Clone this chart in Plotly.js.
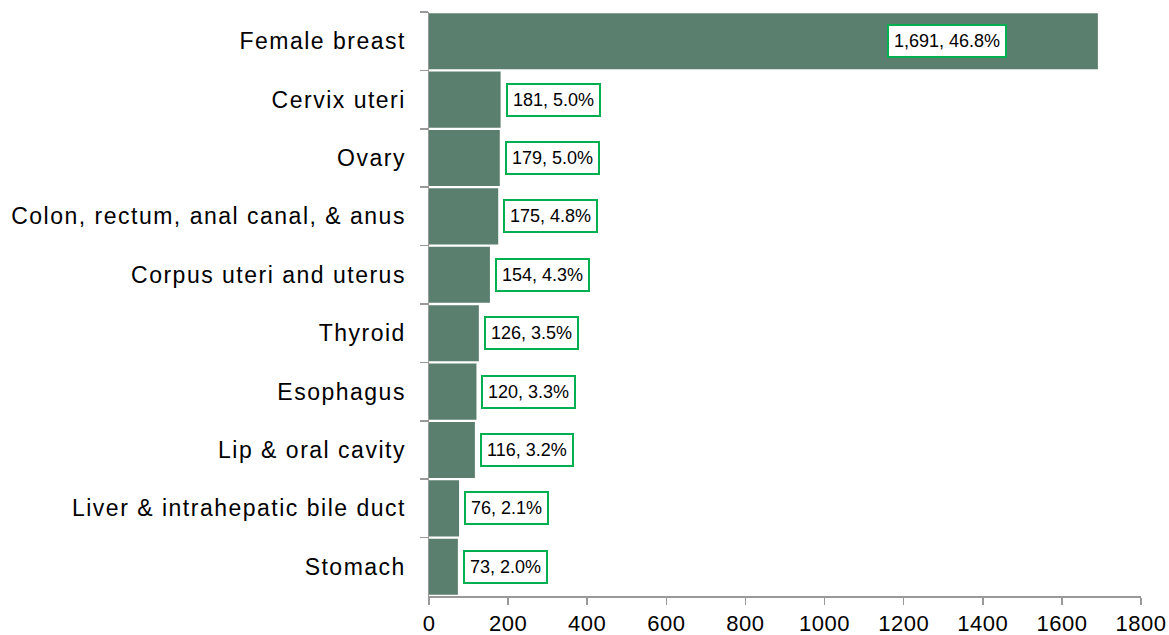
<!DOCTYPE html>
<html>
<head>
<meta charset="utf-8">
<script src="https://cdn.plot.ly/plotly-3.0.1.min.js"></script>
<style>
html,body{margin:0;padding:0;background:#fff;}
#chart{width:1169px;height:635px;}
#chart .ytick text{letter-spacing:1.5px;}
#chart .xtick text{letter-spacing:0.5px;}
</style>
</head>
<body>
<div id="chart"></div>
<script>
const categories = ["Female breast","Cervix uteri","Ovary","Colon, rectum, anal canal, & anus","Corpus uteri and uterus","Thyroid","Esophagus","Lip & oral cavity","Liver & intrahepatic bile duct","Stomach"];
const counts = [1691, 181, 179, 175, 154, 126, 120, 116, 76, 73];
const percents = [46.8, 5.0, 5.0, 4.8, 4.3, 3.5, 3.3, 3.2, 2.1, 2.0];
const xTicks = [0,200,400,600,800,1000,1200,1400,1600,1800];

const fmt = v => v.toLocaleString("en-US");
const annotations = categories.map((c, i) => {
  const inside = counts[i] > 1000;
  return {
    x: counts[i], y: c, xref: "x", yref: "y",
    text: fmt(counts[i]) + ", " + percents[i].toFixed(1) + "%",
    showarrow: false,
    xanchor: inside ? "right" : "left",
    xshift: inside ? -91 : 5,
    bgcolor: "#ffffff",
    bordercolor: "#00B050",
    borderwidth: 2,
    borderpad: 5,
    font: {family: "Liberation Sans, Arial, sans-serif", size: 18, color: "#000"}
  };
});

const trace = {
  type: "bar",
  orientation: "h",
  y: categories,
  x: counts,
  marker: {color: "#5B7F6E"},
  hoverinfo: "skip"
};

const layout = {
  width: 1169, height: 635,
  margin: {l: 429, r: 28, t: 12, b: 39},
  paper_bgcolor: "#fff", plot_bgcolor: "#fff",
  bargap: 0.04,
  showlegend: false,
  font: {family: "Liberation Sans, Arial, sans-serif", color: "#000"},
  xaxis: {
    range: [0, 1800],
    tickvals: xTicks,
    ticktext: xTicks.map(String),
    showgrid: false, zeroline: false,
    showline: true, linecolor: "#999", linewidth: 1.5,
    ticks: "outside", ticklen: 7, tickcolor: "#999", tickwidth: 1.5,
    tickfont: {size: 22, color: "#000"},
    ticklabelstandoff: 0
  },
  yaxis: {
    autorange: "reversed",
    showgrid: false, zeroline: false,
    showline: true, linecolor: "#999", linewidth: 1.5,
    ticks: "outside", ticklen: 8, tickcolor: "#999", tickwidth: 1.5,
    tickson: "boundaries",
    tickfont: {size: 23, color: "#000"},
    ticklabelstandoff: 17
  },
  annotations: annotations
};

Plotly.newPlot("chart", [trace], layout, {displayModeBar: false, staticPlot: true});
</script>
</body>
</html>
